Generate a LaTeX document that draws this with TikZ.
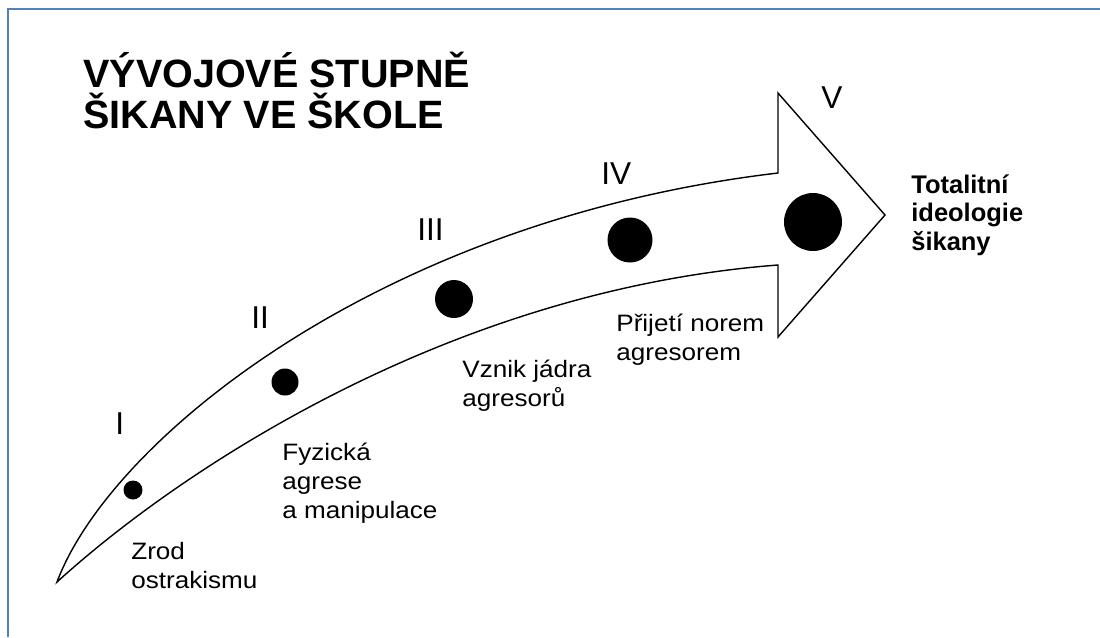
\documentclass[tikz,border=0pt]{standalone}
\usepackage{fontspec}
\setmainfont{Liberation Sans}
\newfontfamily\widesans[FakeStretch=1.1]{Liberation Sans}
\definecolor{frameblue}{RGB}{79,129,189}

\begin{document}
\begin{tikzpicture}[x=0.02cm, y=-0.02cm,
	every node/.style={inner sep=0pt, align=left, anchor=base west},
	numeral/.style={font=\fontsize{18}{20}\selectfont},
	stagetext/.style={font=\widesans\fontsize{13.5}{16.5}\selectfont},
	dot/.style={circle, fill=black, inner sep=0pt, anchor=center},
	outline/.style={line width=0.8pt, line join=miter}]
	\useasboundingbox (0,0) rectangle (1100,637);
	\draw[frameblue, line width=1.2pt] (8,637) -- (8,9) -- (1100,9);

	% title (base = last line)
	\node[font=\bfseries\fontsize{22.5}{23.3}\selectfont] (title) at (83,128) {VÝVOJOVÉ STUPNĚ\\ŠIKANY VE ŠKOLE};

	% curved arrow
	\draw[outline] (57,582) .. controls (110,440) and (380,220) .. (778,173)
		-- (778,93) -- (885,215) -- (778,337) -- (778,265)
		.. controls (450,290) and (180,470) .. (57,582) -- cycle;

	% stages
	\foreach \n/\x/\y/\r/\lx/\ly in {I/133/490/9.5/115/434, II/285/382/13.5/251/328,
		III/454/299/19/417/240, IV/630/240/22.5/601/184, V/813/222/29/821/108} {
		\node[dot, minimum size=2*\r*0.02cm] (dot\n) at (\x,\y) {};
		\node[numeral] (num\n) at (\lx,\ly) {\n};
	}

	\node[stagetext] (zrod) at (131,588) {Zrod\\ostrakismu};
	\node[stagetext] (fyz) at (282,518) {Fyzická\\agrese\\a manipulace};
	\node[stagetext] (vznik) at (462,406) {Vznik jádra\\agresorů};
	\node[stagetext] (prijeti) at (616,360) {Přijetí norem\\agresorem};
	\node[font=\bfseries\fontsize{14.5}{16.2}\selectfont] (total) at (911,250) {Totalitní\\ideologie\\šikany};
\end{tikzpicture}
\end{document}
